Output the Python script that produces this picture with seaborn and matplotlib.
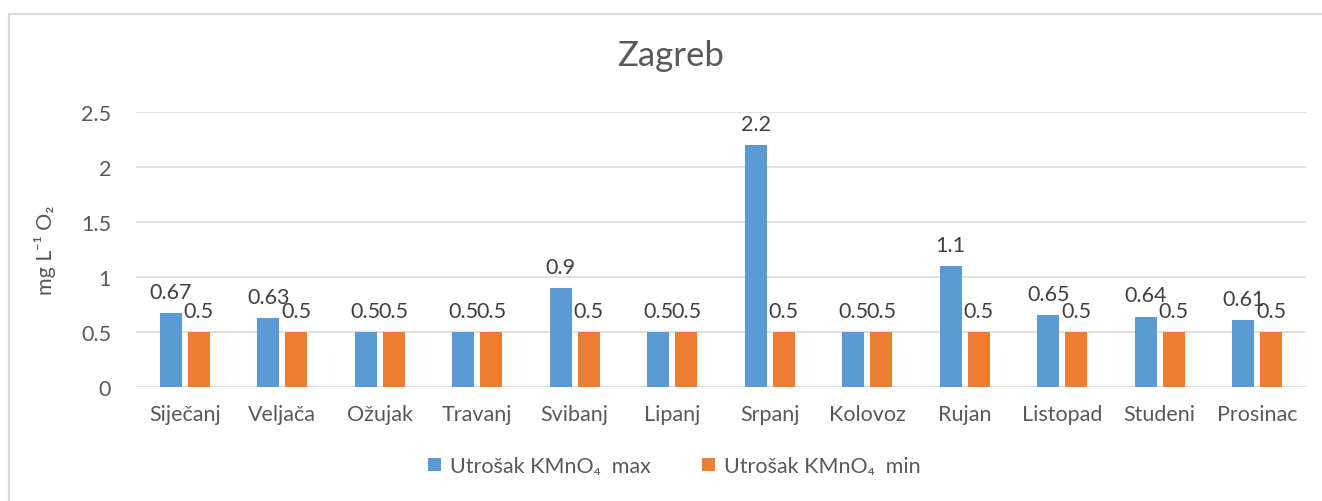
import matplotlib
matplotlib.use("Agg")
import matplotlib.pyplot as plt
from matplotlib.lines import Line2D
import seaborn as sns
import pandas as pd

# Monthly permanganate consumption, Zagreb
months = ["Siječanj", "Veljača", "Ožujak", "Travanj", "Svibanj", "Lipanj",
          "Srpanj", "Kolovoz", "Rujan", "Listopad", "Studeni", "Prosinac"]
kmno4_max = [0.67, 0.63, 0.5, 0.5, 0.9, 0.5, 2.2, 0.5, 1.1, 0.65, 0.64, 0.61]
kmno4_min = [0.5, 0.5, 0.5, 0.5, 0.5, 0.5, 0.5, 0.5, 0.5, 0.5, 0.5, 0.5]
series_names = ["Utrošak KMnO₄  max", "Utrošak KMnO₄  min"]
y_ticks = [0, 0.5, 1, 1.5, 2, 2.5]
y_tick_labels = ["0", "0.5", "1", "1.5", "2", "2.5"]

df = pd.DataFrame({
    "month": months * 2,
    "value": kmno4_max + kmno4_min,
    "series": [series_names[0]] * len(months) + [series_names[1]] * len(months),
})

sns.set_theme(style="white")
FONTS = ["Lato", "DejaVu Sans"]
plt.rcParams["font.family"] = FONTS
TEXT = "#595959"
GRID = "#D9D9D9"

fig = plt.figure(figsize=(13.22, 5.02), dpi=100)
ax = fig.add_axes([0.1029, 0.2271, 0.885, 0.5478])

sns.barplot(data=df, x="month", y="value", hue="series", order=months,
            hue_order=series_names, palette=["#5B9BD5", "#ED7D31"],
            saturation=1, width=0.575, gap=0.225, linewidth=0, ax=ax,
            legend=True)

ax.set_ylim(0, 2.5)
ax.set_yticks(y_ticks)
ax.set_yticklabels(y_tick_labels)
ax.set_axisbelow(True)
ax.yaxis.grid(True, color=GRID, linewidth=1.1)
for s in ax.spines.values():
    s.set_visible(False)
ax.tick_params(axis="both", length=0, labelsize=15.5, colors=TEXT)
ax.tick_params(axis="y", pad=18)
ax.tick_params(axis="x", pad=12)
ax.set_xlabel("")
ax.set_ylabel("mg L⁻¹ O₂", fontsize=15.5, color=TEXT, labelpad=18)

for cont in ax.containers:
    ax.bar_label(cont, labels=[f"{v:g}" for v in cont.datavalues],
                 padding=8, fontsize=15.5, color="#404040")

fig.suptitle("Zagreb", x=0.507, y=0.92, fontsize=25, color=TEXT)

leg = ax.legend(loc="center", bbox_to_anchor=(0.51, 0.0697),
                bbox_transform=fig.transFigure, ncol=2, frameon=False,
                fontsize=15.5, handlelength=0.6, handleheight=0.6,
                handletextpad=0.4, columnspacing=2.4)
for t in leg.get_texts():
    t.set_color(TEXT)

# chart area frame
fig.add_artist(Line2D([0.0068, 0.0068], [0, 0.9711], transform=fig.transFigure,
                      color=GRID, linewidth=1.6))
fig.add_artist(Line2D([0.0068, 1.0], [0.9711, 0.9711], transform=fig.transFigure,
                      color=GRID, linewidth=1.6))

fig.savefig("out.png", dpi=100)
